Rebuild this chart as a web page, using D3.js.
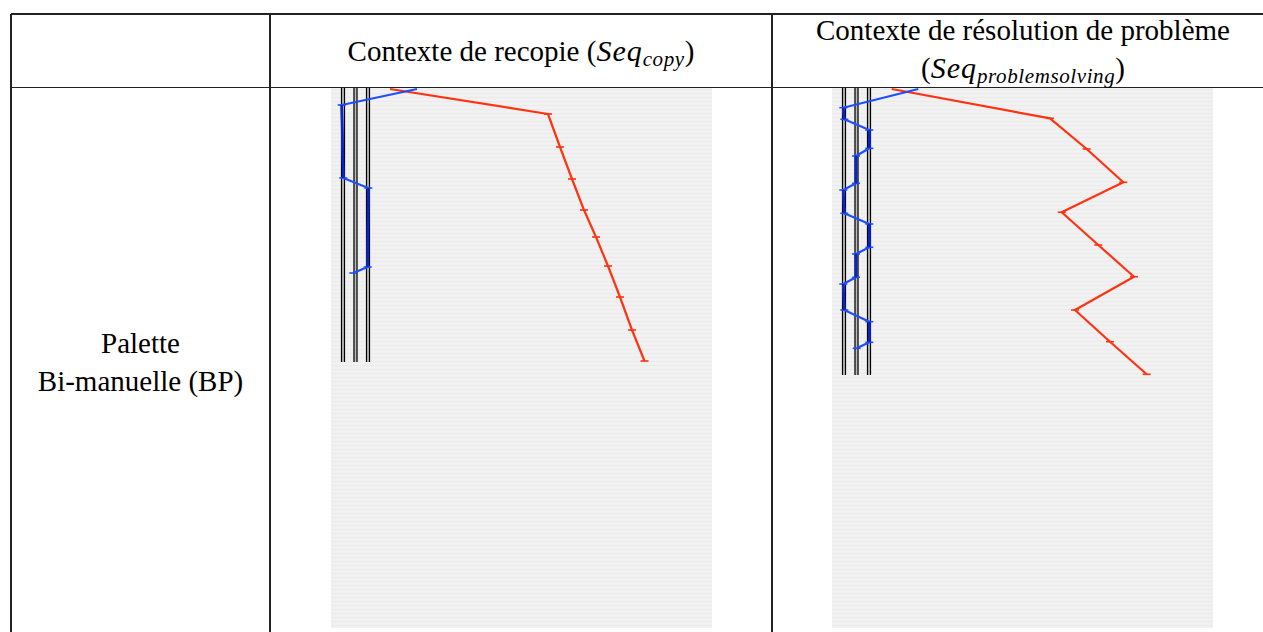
<!DOCTYPE html>
<html><head><meta charset="utf-8">
<script src="https://cdn.jsdelivr.net/npm/d3@7"></script>
<style>body{margin:0;background:#fff;overflow:hidden} text{font-family:"Liberation Serif","Times New Roman",Times,serif}</style>
</head><body>
<svg id="c" width="1263" height="632"></svg>
<script>
// ---- data ----
const rowLabel = ["Palette", "Bi-manuelle (BP)"];
const headerCopy = {pre: "Contexte de recopie (", math: "Seq", sub: "copy", post: ")"};
const headerSolve1 = "Contexte de résolution de problème";
const headerSolve2 = {pre: "(", math: "Seq", sub: "problemsolving", post: ")"};
// three target lanes (horizontal position in screenshot units)
const lanes = [12, 24.5, 37];
const copyLaneEnd = 274;
const solveLaneEnd = 287;
// series: [x, t]  (x = horizontal position, t = time down the screenshot)
const copyBlue = [[86,1],[10.7,17],[12.3,90],[37.3,100],[36.7,179],[22.3,185]];
const copyRed = [[59,1],[217,26],[229,59],[241,91],[253,122],[265,149],[277,178],[289,209],[301,242],[313.5,273]];
const solveBlue = [[86.3,1],[11.3,19.7],[12.3,31.3],[37.3,42],[37.3,60.3],[24,68],[24,95.3],[11.3,102],[12.3,125.3],[37.3,136],[37.3,159.3],[24,166],[24,189.3],[11.3,196],[12.3,222],[37.3,233.7],[37.3,254.3],[24.7,260.3]];
const solveRed = [[59.7,1],[218,30.3],[254.7,61],[291.3,94.3],[229.7,124.3],[266.3,157],[302,188.7],[243,222],[278,253.7],[314.7,286.3]];

// ---- drawing ----
const svg = d3.select("#c");
const defs = svg.append("defs");
const pat = defs.append("pattern").attr("id","stripes").attr("patternUnits","userSpaceOnUse")
  .attr("width",8).attr("height",4);
pat.append("rect").attr("width",8).attr("height",4).attr("fill","#f1f1f1");
pat.append("rect").attr("y",1).attr("width",8).attr("height",1).attr("fill","#ebebeb");

// table lines
const grid = svg.append("g").attr("stroke","#222").attr("stroke-width",1.2).attr("shape-rendering","crispEdges");
[[11,14,1263,14],[11,87.5,1263,87.5],[11,14,11,632],[270,14,270,632],[772,14,772,632]].forEach(d=>{
  grid.append("line").attr("x1",d[0]).attr("y1",d[1]).attr("x2",d[2]).attr("y2",d[3]);
});

function mathText(sel, x, y, h) {
  const t = sel.append("text").attr("x",x).attr("y",y).attr("text-anchor","middle")
    .attr("font-size",29).attr("fill","#000");
  t.append("tspan").text(h.pre);
  t.append("tspan").attr("font-style","italic").attr("font-size",30).attr("letter-spacing",1).text(h.math);
  t.append("tspan").attr("font-style","italic").attr("font-size",21).attr("letter-spacing",0.6).attr("dy",5).text(h.sub);
  t.append("tspan").attr("dy",-5).text(h.post);
}
mathText(svg, 521, 61, headerCopy);
svg.append("text").attr("x",1023).attr("y",40).attr("text-anchor","middle")
  .attr("font-size",29).text(headerSolve1);
mathText(svg, 1023, 78, headerSolve2);

rowLabel.forEach((s,i)=>{
  svg.append("text").attr("x",140.5).attr("y",353 + i*38).attr("text-anchor","middle")
    .attr("font-size",29).text(s);
});

function panel(left, blue, red, laneEnd) {
  const W = 381, H = 540, top = 88;
  const x = d3.scaleLinear().domain([0, W]).range([left, left + W]);
  const y = d3.scaleLinear().domain([0, H]).range([top, top + H]);
  const g = svg.append("g");
  g.append("rect").attr("x",x(0)).attr("y",y(0)).attr("width",x(W)-x(0)).attr("height",y(H)-y(0))
    .attr("fill","url(#stripes)");
  lanes.forEach(l=>{
    g.append("rect").attr("x",x(l)-2).attr("y",y(0)).attr("width",4).attr("height",y(laneEnd)-y(0))
      .attr("fill","#bdbdbd");
    [-1.5,1.5].forEach(o=>{
      g.append("line").attr("x1",x(l)+o).attr("x2",x(l)+o).attr("y1",y(0)).attr("y2",y(laneEnd))
        .attr("stroke","#000").attr("stroke-width",1.2);
    });
  });
  const line = d3.line().x(d=>x(d[0])).y(d=>y(d[1]));
  function series(data, color) {
    g.append("path").datum(data).attr("d",line).attr("fill","none")
      .attr("stroke",color).attr("stroke-width",2.2).attr("stroke-linejoin","round");
    g.selectAll(null).data(data.slice(1)).enter().append("line")
      .attr("x1",d=>x(d[0])-4).attr("x2",d=>x(d[0])+4)
      .attr("y1",d=>y(d[1])).attr("y2",d=>y(d[1]))
      .attr("stroke",color).attr("stroke-width",1.6);
  }
  series(red, "#ff3311");
  series(blue, "#1f4fff");
  for (let i=1;i<blue.length;i++) if (Math.abs(blue[i][0]-blue[i-1][0])<2)
    g.append("path").datum([blue[i-1],blue[i]]).attr("d",line).attr("stroke","#0a24c8").attr("stroke-width",2.6).attr("fill","none");
}
panel(331, copyBlue, copyRed, copyLaneEnd);
panel(832, solveBlue, solveRed, solveLaneEnd);
</script>
</body></html>
